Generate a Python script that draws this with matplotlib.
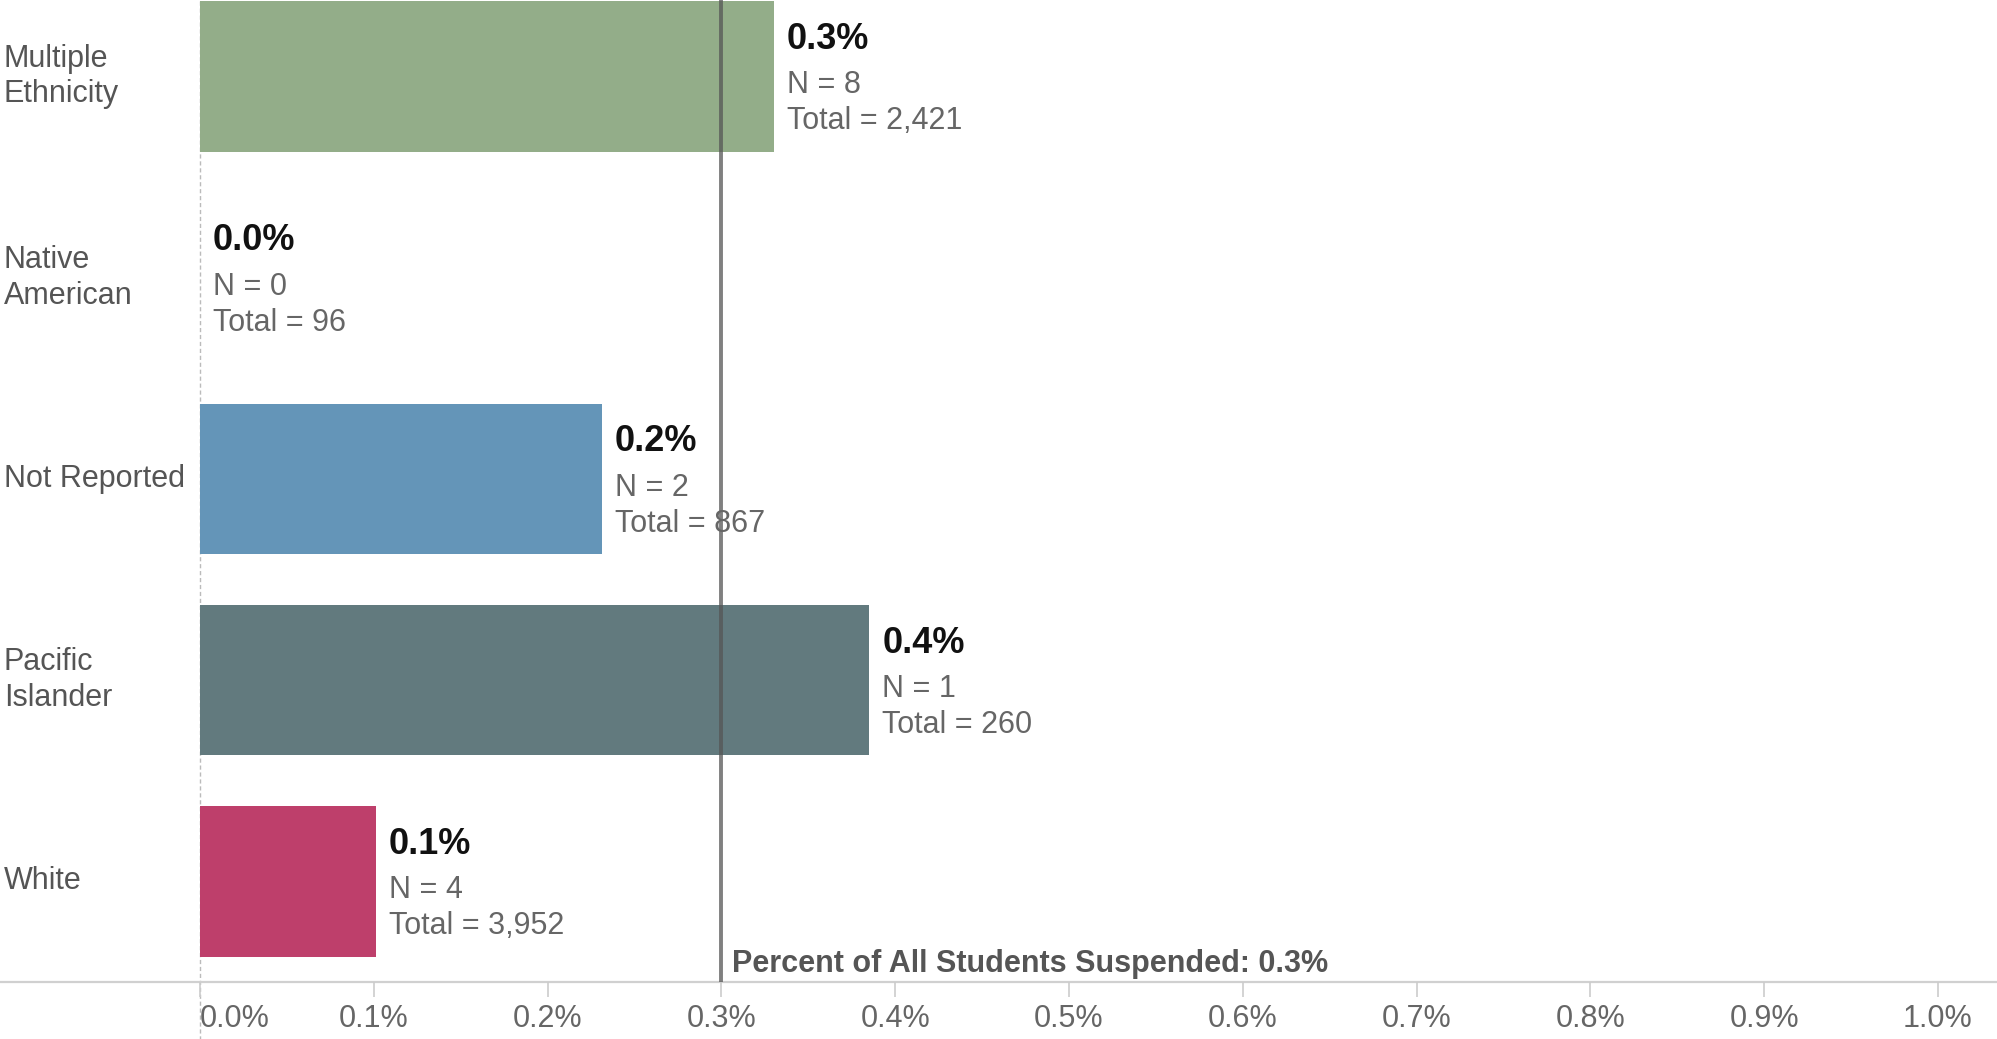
import matplotlib.pyplot as plt
import matplotlib.transforms as mtrans

plt.rcParams['font.family'] = ['Liberation Sans', 'DejaVu Sans']

# data
groups = ['Multiple\nEthnicity', 'Native\nAmerican', 'Not Reported', 'Pacific\nIslander', 'White']
pct = [0.330, 0.0, 0.231, 0.385, 0.101]
n_susp = [8, 0, 2, 1, 4]
totals = ['2,421', '96', '867', '260', '3,952']
pct_labels = ['0.3%', '0.0%', '0.2%', '0.4%', '0.1%']
colors = ['#93AD89', '#CCCCCC', '#6495B8', '#627A7E', '#BE3F6B']
overall = 0.3
xticks = [0.0, 0.1, 0.2, 0.3, 0.4, 0.5, 0.6, 0.7, 0.8, 0.9, 1.0]

fig = plt.figure(figsize=(19.97, 10.39), dpi=100)
ax = fig.add_axes([0.1002, 0.0549, 0.8998, 0.9451])

y = list(range(len(groups)))
ax.barh(y, pct, height=0.747, color=colors, zorder=2)

ax.set_xlim(0, 1.034)
ax.set_ylim(4.5, -0.38)

# reference line for all students
ax.axvline(overall, ymin=0, ymax=1, color='#555555', alpha=0.75, lw=2.8, zorder=3)
ax.annotate('Percent of All Students Suspended: 0.3%', xy=(overall, 4.5),
            xytext=(11, 18), textcoords='offset pixels', ha='left', va='center',
            fontsize=22, fontweight='bold', color='#555555')

# zero line (dashed) and baseline
ax.axvline(0, ymin=-0.06, ymax=1, color='#BBBBBB', lw=1, ls=(0, (3, 2)),
           clip_on=False, zorder=1)
ax.axhline(4.5, xmin=-0.12, xmax=1, color='#D0D0D0', lw=1.6, clip_on=False, zorder=1)

# labels next to bars
for i in y:
    ax.annotate(pct_labels[i], xy=(pct[i], i), xytext=(13, 37),
                textcoords='offset pixels', ha='left', va='center',
                fontsize=26, fontweight='bold', color='#111111')
    ax.annotate(f'N = {n_susp[i]}', xy=(pct[i], i), xytext=(13, -9),
                textcoords='offset pixels', ha='left', va='center',
                fontsize=22, color='#666666')
    ax.annotate(f'Total = {totals[i]}', xy=(pct[i], i), xytext=(13, -45),
                textcoords='offset pixels', ha='left', va='center',
                fontsize=22, color='#666666')

# category labels at the far left of the figure
lab_tr = mtrans.blended_transform_factory(fig.transFigure, ax.transData)
for i, g in enumerate(groups):
    ax.text(4 / 1997, i, g, transform=lab_tr, ha='left', va='center',
            fontsize=22, color='#555555', linespacing=1.25)

for s in ax.spines.values():
    s.set_visible(False)
ax.set_yticks([])
ax.set_xticks(xticks)
ax.set_xticklabels([f'{t:.1f}%' for t in xticks], fontsize=22, color='#666666')
ax.tick_params(axis='x', length=11, width=1.2, color='#CCCCCC', pad=5)
ax.get_xticklabels()[0].set_ha('left')

fig.savefig('out.png', dpi=100, facecolor='white')
